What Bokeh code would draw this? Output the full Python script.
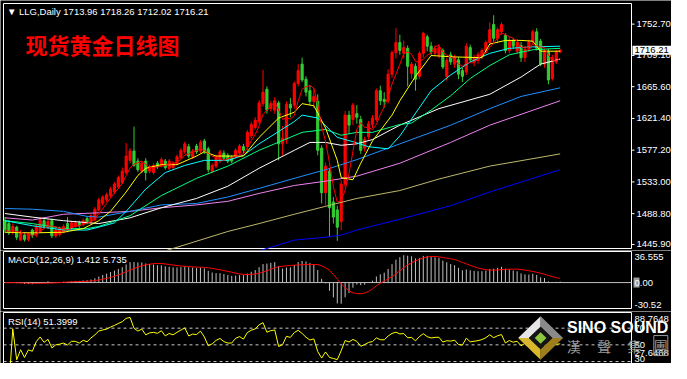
import numpy as np
import pandas as pd
from bokeh.plotting import figure
from bokeh.models import Range1d, Label, ColumnDataSource
from bokeh.layouts import column
from bokeh.embed import file_html
from bokeh.resources import INLINE
from bokeh.core.properties import value

# ---------------- data ----------------
opens = [1479, 1475, 1464, 1470, 1452, 1459, 1453, 1466, 1459, 1464, 1479, 1470, 1479, 1458, 1460, 1463, 1475, 1468, 1471, 1476,
         1474, 1482, 1478, 1480, 1494, 1503, 1508, 1514, 1519, 1526, 1532, 1546, 1563, 1576, 1562, 1548, 1562, 1548, 1546, 1559,
         1556, 1562, 1552, 1553, 1559, 1567, 1575, 1582, 1568, 1583, 1576, 1590, 1579, 1548, 1555, 1562, 1573, 1570, 1567, 1568,
         1573, 1582, 1582, 1597, 1609, 1617, 1642, 1662, 1635, 1633, 1643, 1586, 1592, 1641, 1640, 1670, 1697, 1676, 1660, 1645,
         1645, 1580, 1518, 1548, 1505, 1494, 1478, 1530, 1626, 1620, 1628, 1620, 1580, 1596, 1613, 1620, 1660, 1648, 1646, 1683,
         1713, 1727, 1712, 1719, 1684, 1694, 1680, 1712, 1735, 1722, 1712, 1710, 1716, 1680, 1710, 1697, 1703, 1688, 1686, 1720,
         1700, 1702, 1708, 1716, 1727, 1752, 1733, 1742, 1737, 1716, 1730, 1715, 1723, 1706, 1718, 1728, 1742, 1729, 1697, 1715,
         1677, 1700, 1713.96]
highs = [1484, 1480, 1475, 1472, 1466, 1462, 1463, 1468, 1474, 1484, 1484, 1481, 1482, 1469, 1471, 1474, 1484, 1479, 1479, 1479,
         1482, 1485, 1488, 1498, 1511, 1514, 1518, 1526, 1533, 1542, 1553, 1587, 1580, 1610, 1566, 1562, 1566, 1557, 1559, 1562,
         1567, 1565, 1565, 1562, 1571, 1580, 1589, 1586, 1579, 1586, 1591, 1593, 1582, 1559, 1571, 1578, 1577, 1573, 1570, 1580,
         1586, 1586, 1605, 1617, 1623, 1647, 1689, 1666, 1646, 1651, 1646, 1611, 1645, 1650, 1673, 1697, 1706, 1680, 1668, 1664,
         1655, 1584, 1560, 1552, 1512, 1500, 1535, 1632, 1632, 1643, 1640, 1625, 1596, 1618, 1626, 1663, 1667, 1658, 1690, 1716,
         1747, 1738, 1730, 1723, 1700, 1698, 1715, 1742, 1738, 1728, 1723, 1725, 1719, 1706, 1714, 1710, 1707, 1692, 1726, 1724,
         1710, 1714, 1719, 1730, 1755, 1765, 1748, 1755, 1740, 1735, 1733, 1732, 1728, 1722, 1731, 1745, 1747, 1732, 1718, 1718,
         1710, 1717, 1718.26]
lows = [1462, 1459, 1460, 1452, 1451, 1450, 1450, 1455, 1456, 1462, 1468, 1467, 1455, 1455, 1457, 1461, 1463, 1465, 1469, 1469,
        1471, 1474, 1475, 1478, 1492, 1500, 1505, 1511, 1516, 1523, 1530, 1543, 1559, 1554, 1547, 1545, 1535, 1545, 1543, 1551,
        1553, 1550, 1549, 1550, 1556, 1565, 1572, 1566, 1565, 1572, 1573, 1572, 1546, 1545, 1552, 1559, 1562, 1559, 1559, 1565,
        1570, 1573, 1578, 1594, 1606, 1614, 1638, 1628, 1631, 1628, 1563, 1570, 1586, 1623, 1635, 1666, 1672, 1652, 1640, 1636,
        1570, 1503, 1500, 1456, 1475, 1451, 1466, 1525, 1600, 1612, 1614, 1572, 1575, 1592, 1608, 1617, 1640, 1636, 1642, 1678,
        1705, 1710, 1705, 1666, 1677, 1660, 1676, 1706, 1715, 1710, 1708, 1705, 1690, 1674, 1696, 1692, 1676, 1672, 1682, 1700,
        1694, 1697, 1704, 1712, 1724, 1728, 1726, 1738, 1712, 1712, 1718, 1712, 1700, 1700, 1714, 1724, 1716, 1694, 1692, 1669,
        1674, 1697, 1712.02]
closes = [1466, 1462, 1471, 1456, 1462, 1453, 1460, 1458, 1471, 1480, 1471, 1478, 1458, 1466, 1468, 1471, 1466, 1476, 1476, 1472,
          1479, 1476, 1486, 1495, 1508, 1512, 1515, 1523, 1530, 1539, 1548, 1569, 1576, 1556, 1550, 1559, 1546, 1554, 1556, 1554,
          1564, 1553, 1562, 1559, 1568, 1577, 1586, 1569, 1576, 1575, 1588, 1575, 1550, 1556, 1568, 1575, 1566, 1562, 1562, 1577,
          1583, 1577, 1602, 1613, 1619, 1643, 1658, 1633, 1642, 1646, 1586, 1594, 1641, 1636, 1670, 1688, 1675, 1658, 1645, 1652,
          1577, 1518, 1555, 1497, 1484, 1470, 1530, 1626, 1612, 1640, 1623, 1577, 1592, 1614, 1622, 1660, 1646, 1645, 1683, 1713,
          1727, 1716, 1720, 1694, 1697, 1676, 1712, 1740, 1722, 1714, 1719, 1720, 1693, 1702, 1700, 1706, 1683, 1680, 1722, 1703,
          1706, 1710, 1716, 1727, 1745, 1733, 1745, 1752, 1716, 1730, 1722, 1727, 1706, 1718, 1728, 1742, 1719, 1697, 1715, 1675,
          1706, 1714, 1716.21]

# moving-average lines (bar index, price)
yellow_idx = [0, 7, 15, 20, 24, 27, 31, 34, 36, 40, 44, 49, 51, 54, 61, 65, 70, 74, 76, 79, 82, 85, 86, 89, 91, 94, 99, 101,
              105, 109, 115, 122, 124, 128, 132, 135, 137, 142]
yellow_val = [1463, 1462, 1463, 1468, 1479, 1492, 1519, 1542, 1552, 1557, 1557, 1569, 1575, 1569, 1569, 1595, 1622, 1630, 1642,
              1639, 1608, 1563, 1539, 1536, 1559, 1590, 1626, 1646, 1680, 1709, 1707, 1706, 1725, 1730, 1730, 1729, 1715, 1715]
cyan_idx = [0, 7, 15, 21, 24, 28, 31, 36, 41, 46, 51, 57, 61, 65, 74, 76, 80, 85, 89, 93, 98, 101, 109, 114, 119, 124, 129,
            135, 142]
cyan_val = [1479, 1472, 1466, 1466, 1470, 1476, 1492, 1523, 1546, 1556, 1563, 1563, 1570, 1586, 1617, 1626, 1622, 1595, 1589,
            1582, 1579, 1597, 1660, 1682, 1700, 1712, 1719, 1721, 1722]
green_idx = [0, 7, 15, 21, 24, 32, 40, 49, 57, 65, 76, 82, 86, 90, 94, 101, 104, 109, 114, 119, 124, 129, 135, 142]
green_val = [1479, 1475, 1468, 1468, 1471, 1486, 1514, 1538, 1555, 1577, 1602, 1606, 1598, 1602, 1602, 1613, 1615, 1633, 1653,
             1677, 1695, 1710, 1717, 1719]
white_idx = [0, 7, 15, 24, 32, 40, 49, 57, 65, 74, 78, 82, 86, 90, 94, 101, 111, 124, 132, 137, 142]
white_val = [1489, 1484, 1479, 1475, 1483, 1497, 1510, 1527, 1552, 1577, 1588, 1588, 1584, 1586, 1592, 1612, 1635, 1655, 1679,
             1697, 1704]
blue_idx = [0, 7, 15, 21, 24, 32, 40, 49, 57, 65, 76, 82, 90, 101, 114, 124, 132, 142]
blue_val = [1496, 1495, 1492, 1485, 1484, 1492, 1501, 1503, 1512, 1524, 1541, 1550, 1564, 1586, 1612, 1635, 1652, 1664]
violet_idx = [0, 7, 15, 24, 32, 40, 49, 57, 65, 74, 82, 90, 101, 114, 124, 142]
violet_val = [1483, 1480, 1488, 1490, 1492, 1497, 1501, 1506, 1517, 1528, 1534, 1541, 1559, 1588, 1612, 1646]
khaki_idx = [38, 44, 57, 65, 74, 82, 90, 101, 111, 124, 142]
khaki_val = [1432, 1442, 1464, 1475, 1488, 1499, 1510, 1521, 1537, 1555, 1572]
dblue_idx = [62, 68, 74, 82, 86, 90, 101, 114, 124, 142]
dblue_val = [1432, 1442, 1452, 1456, 1459, 1466, 1481, 1500, 1519, 1550]

price_ticks = [1445.90, 1488.80, 1533.00, 1577.20, 1621.40, 1665.60, 1709.10, 1752.70]
macd_labels = ["36.555", "0.00", "-30.52"]
rsi_labels = ["88.7648", "70", "50", "27.6468", "30"]
rsi_levels = [70, 50, 30]

header_text = "\u25bc LLG,Daily  1713.96 1718.26 1712.02 1716.21"
title_text = "现货黄金日线图"
macd_text = "MACD(12,26,9) 1.412 5.735"
rsi_text = "RSI(14) 51.3999"
last_price = 1716.21

# ---------------- indicators ----------------
c = np.array(closes, dtype=float)
o = np.array(opens, dtype=float)
h = np.array(highs, dtype=float)
l = np.array(lows, dtype=float)
n = len(c)
idx = np.arange(n)

ma5 = pd.Series(c).rolling(5, min_periods=1).mean().values

def ema(a, span):
    alpha = 2.0 / (span + 1)
    out = np.empty_like(a)
    out[0] = a[0]
    for i in range(1, len(a)):
        out[i] = alpha * a[i] + (1 - alpha) * out[i - 1]
    return out

macd = ema(c, 12) - ema(c, 26)
signal = pd.Series(macd).rolling(9, min_periods=1).mean().values

d = np.diff(c, prepend=c[0])
g = np.where(d > 0, d, 0.0)
ls = np.where(d < 0, -d, 0.0)
rsi = np.full(n, 50.0)
ag = al = 0.0
for i in range(1, n):
    if i <= 14:
        ag = g[1:i + 1].mean()
        al = ls[1:i + 1].mean()
    else:
        ag = (ag * 13 + g[i]) / 14
        al = (al * 13 + ls[i]) / 14
    rsi[i] = 100.0 if al == 0 else 100 - 100 / (1 + ag / al)
rsi[0] = rsi[1]

# ---------------- layout ----------------
W = 671
FW = 628                      # width of the chart box (axis labels to its right)
XL, XR = -0.375, 160.25       # bar-index span of the chart box
U = (XR - XL) / FW            # index units per pixel
XEND = XL + (W - 3) * U
xr = Range1d(XL - 3 * U, XEND)
YT, YB = 1781.4, 1440.3
MT, MB = 36.555, -30.52
RT, RB = 88.7648, 27.6468
FONT = "Liberation Sans"

def mx(px):          # reference pixel -> bar index
    return XL + (px - 3.5) * (XR - XL) / (646 - 3.5)

def my_main(py):
    return YT - (py - 3.5) * (YT - YB) / (259 - 3.5)

def my_macd(py):
    return MT - (py - 262) * (MT - MB) / (321 - 262)

def my_rsi(py):
    return RT - (py - 325) * (RT - RB) / (379 - 325)

def make_panel(height, box_top, box_h, vtop, vbot, show_bottom=True):
    k = (vtop - vbot) / box_h
    yr = Range1d(vbot - (height - box_top - box_h) * k, vtop + box_top * k)
    p = figure(width=W, height=height, x_range=xr, y_range=yr, title=None,
               output_backend="svg", toolbar_location=None,
               x_axis_location=None, y_axis_location=None, min_border=0,
               background_fill_color="black", border_fill_color="black")
    p.outline_line_color = None
    p.grid.visible = False
    bottom = vbot if show_bottom else vbot - 4 * k
    p.quad(left=[XL], right=[XR], top=[vtop], bottom=[bottom],
           fill_color=None, line_color="white", line_width=1)
    return p, k

def axis_text(p, ys, labels, offset, color="white"):
    p.text(x=[XR] * len(ys), y=ys, text=labels, x_offset=offset,
           text_baseline="middle", text_align="left", text_color=color,
           text_font=value(FONT), text_font_size="9.5px")

# ---------------- main price panel ----------------
pm, km = make_panel(250, 3, 245, YT, YB)
pm.segment(x0=[XR] * len(price_ticks), y0=price_ticks, x1=[XR + 3 * U] * len(price_ticks),
           y1=price_ticks, line_color="white", line_width=1)
axis_text(pm, price_ticks, [f"{t:.2f}" for t in price_ticks], 5)

up = c >= o
col = np.where(up, "#ff0000", "#32cd32")
src = ColumnDataSource(dict(x=idx, h=h, l=l, top=np.maximum(o, c), bot=np.minimum(o, c), col=col))
pm.segment(x0="x", y0="l", x1="x", y1="h", line_color="col", line_width=1, source=src)
pm.vbar(x="x", width=0.55, top="top", bottom="bot", fill_color="col", line_color="col",
        line_width=1, source=src)

for xs, ys, colr in [(dblue_idx, dblue_val, "#0000ff"),
                     (khaki_idx, khaki_val, "#bdb76b"),
                     (violet_idx, violet_val, "#ee82ee"),
                     (blue_idx, blue_val, "#1e90ff"),
                     (white_idx, white_val, "#ffffff"),
                     (green_idx, green_val, "#00ff7f"),
                     (cyan_idx, cyan_val, "#00ffff"),
                     (yellow_idx, yellow_val, "#ffff00")]:
    pm.line(xs, ys, line_color=colr, line_width=1)
pm.line(idx, ma5, line_color="#ff0000", line_width=1)

# current-price tag on the price scale
pm.quad(left=[XR + 1 * U], right=[XEND], top=[last_price + 4.5 * km], bottom=[last_price - 4.5 * km],
        fill_color="white", line_color=None)
axis_text(pm, [last_price], [f"{last_price:.2f}"], 3, color="black")

pm.add_layout(Label(x=mx(7), y=my_main(12), text=header_text, text_color="white",
                    text_font=FONT, text_font_size="9.5px", text_baseline="middle"))
pm.add_layout(Label(x=mx(26), y=my_main(46), text=title_text, text_color="#ff0000",
                    text_font="Noto Sans CJK SC", text_font_style="bold",
                    text_font_size="22px", text_baseline="middle"))

# ---------------- MACD panel ----------------
pd_, kd = make_panel(61, 1, 57, MT, MB)
pd_.quad(left=[XR + 2 * U], right=[XR + 8 * U], top=[5 * kd], bottom=[-5 * kd],
         fill_color="#9c9c9c", line_color=None)
axis_text(pd_, [my_macd(268), 0.0, my_macd(317)], macd_labels, 3)
pd_.segment(x0=[XL], y0=[0.0], x1=[XR], y1=[0.0], line_color="#c0c0c0", line_width=1)
pd_.segment(x0=idx, y0=np.zeros(n), x1=idx, y1=macd, line_color="#c0c0c0", line_width=1)
pd_.line(idx, signal, line_color="#ff0000", line_width=1)
pd_.add_layout(Label(x=mx(8), y=my_macd(270), text=macd_text, text_color="white",
                     text_font=FONT, text_font_size="9.5px", text_baseline="middle"))

# ---------------- RSI panel ----------------
pr, kr = make_panel(52, 1, 51, RT, RB, show_bottom=False)
rsi_label_pos = [RT - 6 * kr, 70.0, 50.0, RT - 40 * kr, RT - 46.5 * kr]
axis_text(pr, rsi_label_pos, rsi_labels, 3)
pr.segment(x0=[XL] * 3, y0=rsi_levels, x1=[XR] * 3, y1=rsi_levels,
           line_color="#c8c8c8", line_width=1, line_dash="3 3")
pr.line(idx, rsi, line_color="#ffff00", line_width=1)
pr.add_layout(Label(x=mx(8), y=my_rsi(334), text=rsi_text, text_color="white",
                    text_font=FONT, text_font_size="9.5px", text_baseline="middle"))

# logo (decoration)
def dia(pts):
    return [mx(a) for a, b in pts], [my_rsi(b) for a, b in pts]
facets = [
    ([(530, 352), (553, 329), (553, 340), (541, 352)], "#e6e6e6"),
    ([(553, 329), (576, 352), (565, 352), (553, 340)], "#8a8a8a"),
    ([(530, 352), (541, 352), (553, 364), (553, 375)], "#d8b62e"),
    ([(576, 352), (565, 352), (553, 364), (553, 375)], "#9c7f1c"),
    ([(553, 340), (565, 352), (553, 364), (541, 352)], "#141414"),
    ([(553, 346), (559, 352), (553, 358), (547, 352)], "#8dc63f"),
]
fx, fy, fc = [], [], []
for pts, colr in facets:
    a, b = dia(pts)
    fx.append(a); fy.append(b); fc.append(colr)
pr.patches(fx, fy, fill_color=fc, line_color=None)
pr.add_layout(Label(x=mx(580), y=my_rsi(341), text="SINO SOUND", text_color="white",
                    text_font=FONT, text_font_style="bold", text_font_size="16px",
                    text_baseline="middle"))
for ch, xp in zip(["漢", "聲", "集", "團"], [587, 618, 649, 676]):
    pr.add_layout(Label(x=mx(xp), y=my_rsi(360), text=ch, text_color="#9a9a9a",
                        text_font="Noto Sans CJK TC", text_font_size="14px",
                        text_align="center", text_baseline="middle",
                        border_line_color="#9a9a9a" if ch == "團" else None))

layout = column(pm, pd_, pr, spacing=0)
open("out.html", "w").write(file_html(layout, INLINE))
